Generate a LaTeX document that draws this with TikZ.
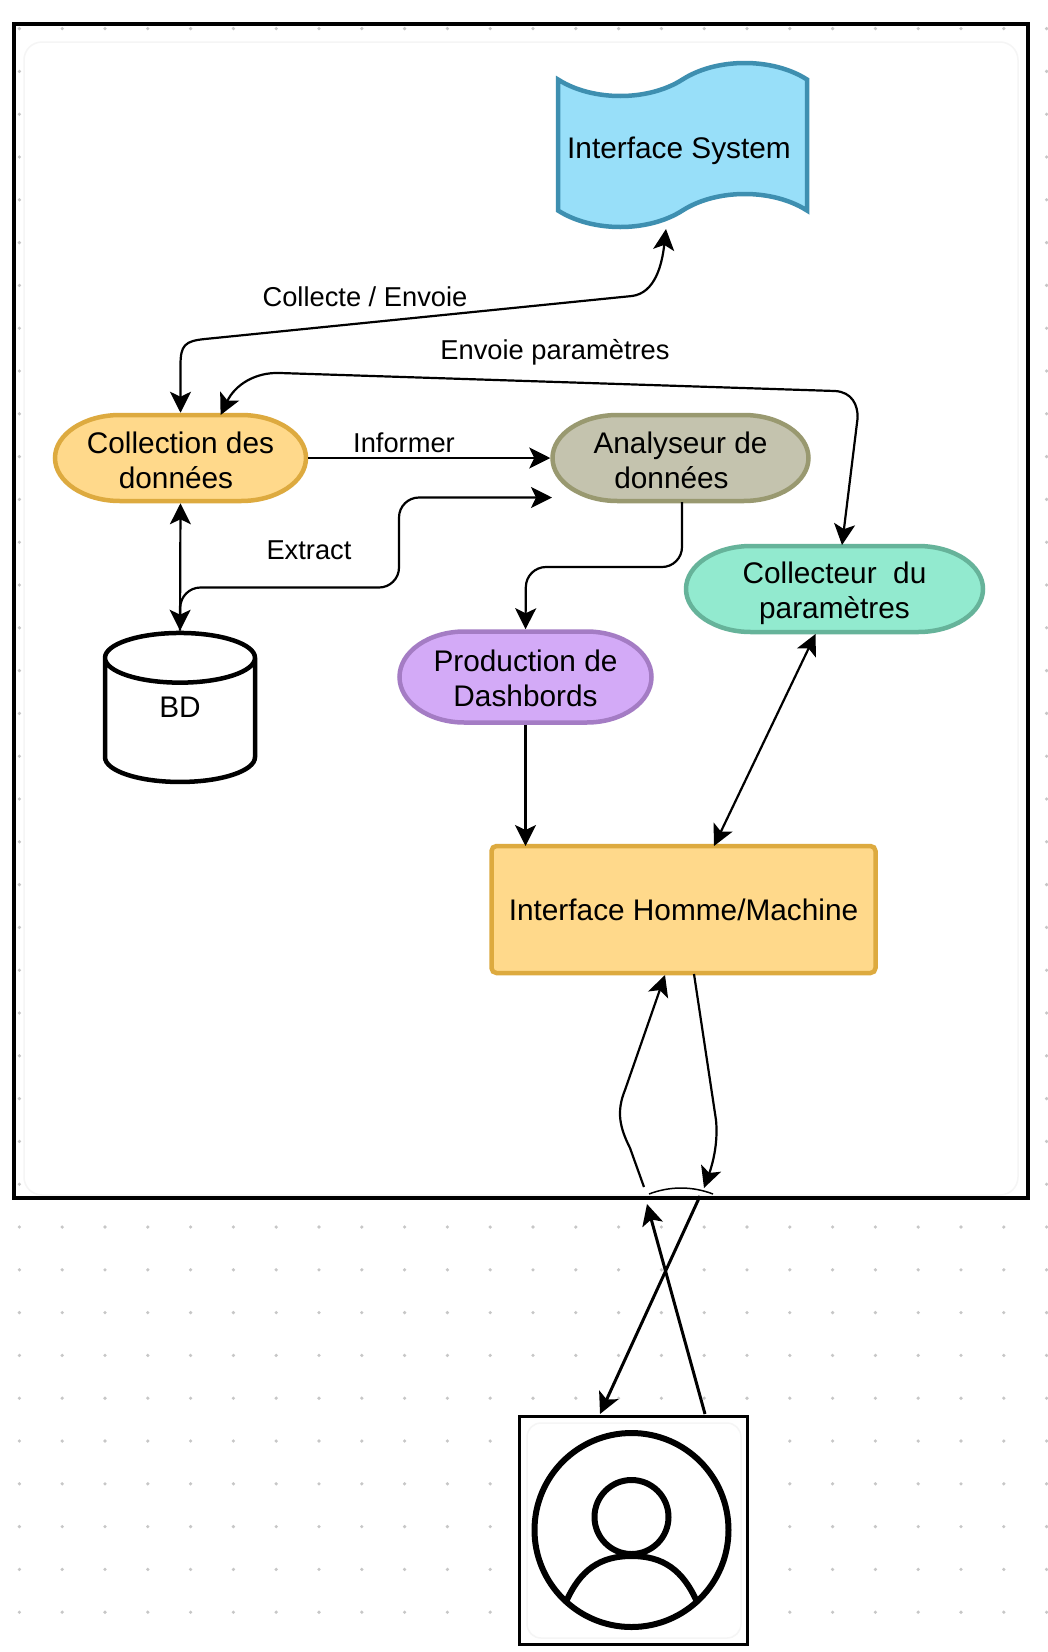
\documentclass[tikz,border=0pt]{standalone}
\usepackage{fontspec}
\setmainfont{Liberation Sans}
\usetikzlibrary{arrows.meta,shapes.geometric,shapes.symbols}

\definecolor{yellowfill}{HTML}{FFD98B}
\definecolor{yellowline}{HTML}{DDAA3F}
\definecolor{bluefill}{HTML}{98DFF9}
\definecolor{blueline}{HTML}{3E8FB0}
\definecolor{khakifill}{HTML}{C4C3AE}
\definecolor{khakiline}{HTML}{999970}
\definecolor{greenfill}{HTML}{92EACF}
\definecolor{greenline}{HTML}{66B39A}
\definecolor{purplefill}{HTML}{D3AAF7}
\definecolor{purpleline}{HTML}{A47CC4}

\tikzset{
  box/.style={draw,line width=4.5pt,align=center,inner sep=0pt,
    font=\fontsize{29.8}{35}\selectfont},
  pill/.style={line width=4.5pt,align=center,inner sep=0pt,minimum height=86pt,
    font=\fontsize{29.8}{35}\selectfont},
  label/.style={font=\fontsize{27.3}{32}\selectfont,inner sep=0pt},
  panel/.style={draw=black!4,fill=white,line width=1.5pt},
  link/.style={line width=2.2pt}
}

% x, y, width, height, fill, line
\newcommand{\pillshape}[6]{
  \draw[line width=4.5pt,draw=#6,fill=#5] ({#1-#3/2+65},{#2-#4/2}) -- ({#1+#3/2-65},{#2-#4/2})
    arc[start angle=-90,end angle=90,x radius=65,y radius=#4/2]
    -- ({#1-#3/2+65},{#2+#4/2})
    arc[start angle=90,end angle=270,x radius=65,y radius=#4/2] -- cycle;
}

\begin{document}
\begin{tikzpicture}[x=1pt,y=-1pt,>={Stealth[length=21pt,width=21pt,inset=5pt]}]
  \useasboundingbox (0,0) rectangle (1048,1652);
  \fill[white] (0,0) rectangle (1048,1652);

  % dotted canvas
  \foreach \row in {0,...,37}
    \foreach \col in {0,...,24}
      \fill[black!22] ({19.4+42.8*\col},{28.6+42.8*\row}) circle (1.8pt);

  \draw[panel,rounded corners=18pt] (24,42) rectangle (1018,1195);
  \draw[black,line width=3.4pt] (14,24) rectangle (1028,1198);

  \node[box,shape=tape,draw=blueline,fill=bluefill,tape bend top=in and out,
        tape bend bottom=in and out,tape bend height=33pt,
        minimum width=249pt,minimum height=164pt] (system) at (682.5,145) {\rule{0pt}{34pt}Interface System\hspace*{7pt}};

  \pillshape{180.5}{458}{251}{86}{yellowfill}{yellowline}
  \node[pill,minimum width=251pt] (collection) at (180.5,458)
    {\rule{0pt}{27pt}Collection des\\données\hspace*{9pt}};
  \pillshape{680.5}{458}{256}{86}{khakifill}{khakiline}
  \node[pill,minimum width=256pt] (analyseur) [right of=collection,node distance=500pt]
    {\rule{0pt}{27pt}Analyseur de\\données\hspace*{18pt}};
  \pillshape{834.5}{589}{297}{86}{greenfill}{greenline}
  \node[pill,minimum width=297pt] (collecteur) at (834.5,589)
    {\rule{0pt}{30pt}Collecteur\ \ du\\paramètres};
  \pillshape{525.5}{677}{252}{91}{purplefill}{purpleline}
  \node[pill,minimum width=252pt,minimum height=91pt] (production) at (525.5,677)
    {\rule{0pt}{25pt}Production de\\Dashbords};
  \node[box,draw=yellowline,fill=yellowfill,rounded corners=5pt,minimum width=384pt,minimum height=127pt] (ihm) at (683.5,909.5)
    {Interface Homme/Machine};

  \node[draw,line width=4.5pt,shape=cylinder,shape border rotate=90,shape aspect=1.2,inner sep=0pt,
        minimum width=150pt,minimum height=149pt,font=\fontsize{29.8}{35}\selectfont] (bd) at (180,721) {\raisebox{27pt}{BD}};

  % user
  \node[draw,fill=white,line width=3pt,minimum width=228pt,minimum height=228pt] (user) at (633.7,1530) {};
  \draw[panel,rounded corners=14pt] (527,1423) rectangle (741,1638);
  \node[draw,circle,line width=6pt,minimum size=194pt] (face) at (631.5,1530) {};
  \node[draw,circle,line width=6pt,minimum size=74pt] (head) at (631.5,1517) {};
  \draw[line width=6pt] (566,1602) .. controls (580,1570) and (600,1556) .. (631.5,1556)
    .. controls (663,1556) and (683,1570) .. (697,1602);

  % free ends
  \coordinate (systemin) at (666,229);
  \coordinate (extractin) at (552,497.5);
  \coordinate (paramin) at (220.6,415);
  \coordinate (paramout) at (842,545);
  \coordinate (prodout) at (682,502);
  \coordinate (collihm) at (714,846);
  \coordinate (collup) at (815.5,634);
  \coordinate (ihmin) at (665,975);
  \coordinate (ihmout) at (694,974);
  \coordinate (gapleft) at (644,1187);
  \coordinate (gapright) at (704,1188);
  \coordinate (arcleft) at (649,1194);
  \coordinate (arcright) at (713,1194);
  \coordinate (lowout) at (700,1196);
  \coordinate (lowin) at (647,1204);
  \coordinate (userin) at (600,1414);
  \coordinate (userout) at (705,1414);

  \draw[link,<->] (collection.north) -- (180.5,365) .. controls (180.5,345) and (185,341) .. (205,339)
    -- (632,296) .. controls (655,293) and (662,265) .. (systemin);
  \draw[link,<->] (paramin) .. controls (235,385) and (255,372) .. (280,373) -- (835,391)
    .. controls (852,392) and (858,405) .. (857.6,418) -- (paramout);
  \draw[link,->] (collection.east) -- (analyseur.west);
  \draw[link,<->] (collection.south) -- (bd.north);
  \draw[link,->,rounded corners=20pt] (bd.north) -- (180.5,587.5) -- (399,587.5) -- (399,497.5) -- (extractin);
  \draw[link,->,rounded corners=20pt] (prodout) -- (682,567) -- (526,567) -- (production.north);
  \draw[link,->] (production.south) -- (525.5,846);
  \draw[link,<->] (collup) -- (collihm);
  \draw[link,->] (gapleft) -- (630,1148) .. controls (620,1128) and (616,1112) .. (625,1090) -- (ihmin);
  \draw[link,->] (ihmout) -- (716,1120) .. controls (718,1140) and (714,1160) .. (gapright);
  \draw[line width=1.5pt] (arcleft) .. controls (670,1186) and (692,1186) .. (arcright);
  \draw[line width=3pt,->] (lowout) -- (userin);
  \draw[line width=3pt,->] (userout) -- (lowin);

  \node[label] (lblcollecte) at (365,297) {Collecte / Envoie};
  \node[label] (lblenvoie) at (555,352) {Envoie paramètres};
  \node[label] (lblinformer) at (404,443) {Informer};
  \node[label] (lblextract) at (309,550) {Extract};
\end{tikzpicture}
\end{document}
